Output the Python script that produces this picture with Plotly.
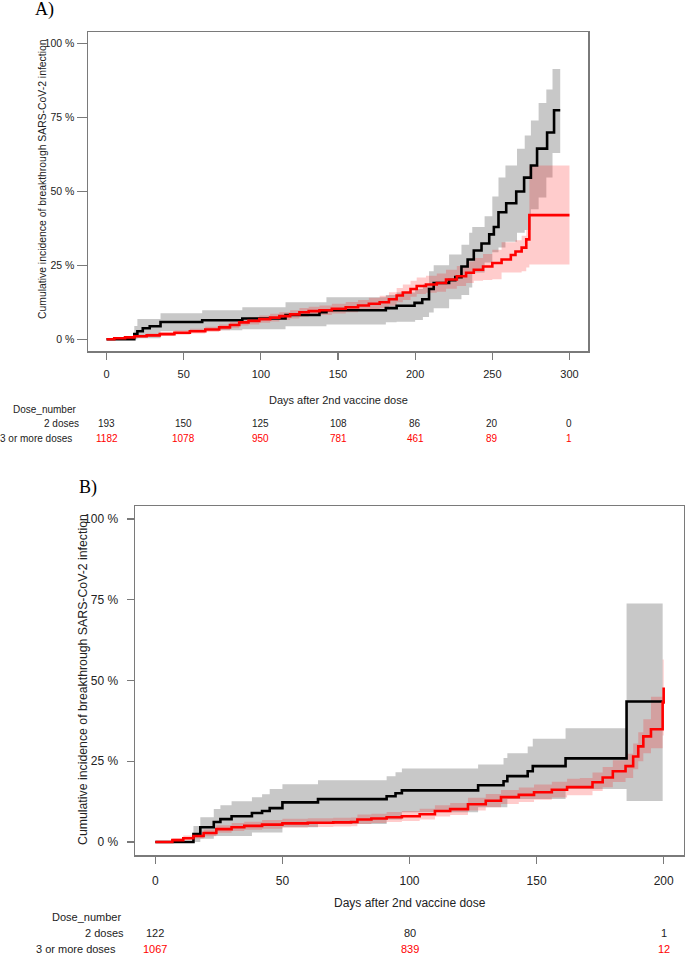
import plotly.graph_objects as go

# ---------------- Panel A data ----------------
a_black_days = [0, 18, 20, 23.5, 28, 35, 62, 88, 116, 138, 142.5, 181, 188, 199.6, 204.6, 209, 212, 222, 226, 230, 234, 238, 243, 248, 251, 254, 259, 265.5, 270.6, 275, 279, 285.5, 290, 294]
a_black_vals = [0, 1.7, 2.7, 3.7, 4.4, 5.8, 6.4, 7.0, 8.2, 9.1, 9.8, 10.5, 11.3, 12.3, 13.5, 17, 19, 20, 21, 24.6, 27, 30, 32.4, 35.5, 38, 43, 46, 50, 54.7, 58.8, 64.5, 70, 77.5, 77.5]

a_gray_days = [0, 18, 20, 35, 62, 88, 116, 142.5, 181, 188, 200, 205, 209, 212, 222, 230, 235, 237, 245, 250, 254, 258.5, 266, 271, 275, 280, 285, 289, 294]
a_gray_upper = [0, 4.5, 6.8, 8.8, 9.8, 10.8, 12.5, 14.2, 15.0, 15.8, 17.0, 18.5, 23, 25, 28.7, 32, 36, 38, 41.6, 48.3, 54.7, 58.8, 64.5, 69, 74, 80, 84.5, 91.5, 91.5]
a_gray_lower = [0, 0, 0.3, 2.7, 3.0, 3.4, 4.4, 5.0, 5.7, 5.9, 6.5, 7.5, 9.0, 10.5, 13.5, 15.0, 17.5, 22.6, 26, 29.4, 31, 33, 36, 37, 44, 48, 54.7, 63, 63]

a_red_days = [0, 5, 12, 18, 26, 34.5, 44, 54, 64, 73, 80, 86, 92, 99, 106, 112, 119, 125, 131, 138, 146, 155, 163, 170, 177, 183, 188, 192, 197, 201, 207, 214, 220, 227, 233, 238, 244, 250, 256, 262, 265, 269, 272, 274, 300]
a_red_vals = [0, 0.3, 0.6, 1.0, 1.3, 1.7, 2.2, 2.7, 3.3, 4.0, 4.8, 5.7, 6.2, 6.8, 7.3, 7.8, 8.4, 9.1, 9.5, 9.8, 10.3, 10.8, 11.4, 12.0, 12.5, 13.5, 14.8, 15.8, 17.0, 18.0, 18.5, 19.0, 20.2, 21.3, 22.5, 23.5, 24.6, 25.8, 27.0, 28.5, 29.7, 31.0, 33.8, 42.0, 42.0]
a_red_upper = [0, 0.6, 1.0, 1.5, 1.9, 2.4, 2.9, 3.5, 4.2, 5.0, 5.9, 6.8, 7.4, 8.0, 8.6, 9.1, 9.8, 10.6, 11.0, 11.4, 12.0, 12.6, 13.3, 14.0, 14.7, 15.9, 17.3, 18.5, 19.8, 20.9, 21.5, 22.2, 23.5, 24.8, 26.3, 27.5, 28.8, 30.3, 32.8, 32.8, 33.5, 35.0, 37.0, 58.8, 58.8]
a_red_lower = [0, 0.1, 0.3, 0.5, 0.8, 1.1, 1.5, 1.9, 2.4, 3.0, 3.7, 4.6, 5.0, 5.6, 6.0, 6.5, 7.0, 7.6, 8.0, 8.2, 8.7, 9.1, 9.6, 10.1, 10.5, 11.3, 12.5, 13.3, 14.4, 15.3, 15.7, 16.1, 17.1, 18.0, 19.0, 19.8, 20.0, 20.3, 22.6, 22.6, 22.6, 23.0, 24.3, 25.3, 25.3]

a_table_days = [0, 50, 100, 150, 200, 250, 300]
a_risk_2doses = [193, 150, 125, 108, 86, 20, 0]
a_risk_3doses = [1182, 1078, 950, 781, 461, 89, 1]
a_xticks = [0, 50, 100, 150, 200, 250, 300]

# ---------------- Panel B data ----------------
b_black_days = [0, 15, 17.7, 23, 25.6, 30, 38, 42, 45, 50, 64, 91, 94.5, 97, 127, 137, 138.5, 146.5, 148.5, 161.4, 185.4, 199.6]
b_black_vals = [0, 2.5, 4.6, 6.2, 7.1, 8.0, 9.0, 9.6, 10.5, 12.3, 13.3, 14.2, 15.1, 16.0, 17.6, 18.8, 20.4, 21.9, 23.5, 25.9, 43.5, 43.5]
b_gray_upper = [0, 5.0, 7.7, 10.2, 11.4, 12.6, 13.9, 14.8, 16.4, 17.9, 19.1, 20.4, 21.6, 22.8, 24.0, 26.0, 27.5, 29.6, 32.0, 35.2, 73.8, 73.8]
b_gray_lower = [0, 0, 1.0, 1.9, 1.9, 1.9, 3.0, 3.0, 3.0, 4.6, 5.6, 7.0, 7.0, 9.2, 10.8, 10.8, 13.3, 13.3, 13.3, 16.4, 12.7, 12.7]

b_red_days = [0, 6.7, 11, 15, 19, 24, 30, 35, 42, 50, 60, 70, 77, 79.5, 85, 91, 97, 104, 110, 116, 123, 130, 136, 143, 149, 156, 162, 167, 172, 176, 180, 185, 188, 190, 192, 195, 199.6, 200]
b_red_vals = [0, 0.6, 1.2, 1.9, 2.8, 4.0, 4.6, 5.0, 5.4, 5.8, 6.0, 6.1, 6.2, 7.0, 7.3, 7.7, 8.0, 8.6, 9.6, 10.2, 11.7, 12.8, 13.9, 14.6, 15.4, 16.2, 17.0, 17.0, 18.5, 20.0, 21.9, 23.5, 26.5, 29.6, 32.7, 34.9, 43.2, 47.8]
b_red_upper = [0, 1.2, 2.0, 2.8, 3.9, 5.2, 5.9, 6.3, 6.8, 7.2, 7.4, 7.5, 7.6, 8.5, 8.8, 9.3, 9.6, 10.3, 11.4, 12.1, 13.7, 14.9, 16.1, 16.9, 17.8, 18.7, 19.6, 19.8, 21.5, 23.2, 25.3, 27.3, 30.5, 34.0, 38.0, 45.0, 56.5, 56.5]
b_red_lower = [0, 0.2, 0.6, 1.1, 1.8, 2.9, 3.4, 3.8, 4.1, 4.5, 4.7, 4.8, 4.9, 5.6, 5.9, 6.2, 6.5, 7.0, 7.9, 8.4, 9.8, 10.8, 11.8, 12.4, 13.1, 13.8, 14.5, 14.5, 15.8, 17.0, 18.6, 19.8, 22.5, 25.0, 27.5, 29.0, 33.0, 33.0]

b_table_days = [0, 100, 200]
b_risk_2doses = [122, 80, 1]
b_risk_3doses = [1067, 839, 12]
b_xticks = [0, 50, 100, 150, 200]

y_ticks = [0, 25, 50, 75, 100]
y_ticktext = ["0 %", "25 %", "50 %", "75 %", "100 %"]
row_labels = ["2 doses", "3 or more doses"]
x_title = "Days after 2nd vaccine dose"
y_title = "Cumulative incidence of breakthrough SARS-CoV-2 infection"

W, H = 685, 955
GRAY = "rgb(200,200,200)"
PINK = "rgba(255,0,0,0.2)"
AXC = "#7a7a7a"
TXT = "#222222"
FONT = "Liberation Sans, Arial, sans-serif"

def px_x(p):
    return p / W

def px_y(p):
    return (H - p) / H

fig = go.Figure()

def add_panel(xa, ya, gdays, glow, gup, rdays, rlow, rup, bdays, bvals, rvals):
    fig.add_trace(go.Scatter(x=gdays, y=glow, mode="lines", line=dict(width=0, shape="hv"),
                             xaxis=xa, yaxis=ya, showlegend=False, hoverinfo="skip"))
    fig.add_trace(go.Scatter(x=gdays, y=gup, mode="lines", line=dict(width=0, shape="hv"),
                             fill="tonexty", fillcolor=GRAY,
                             xaxis=xa, yaxis=ya, showlegend=False, hoverinfo="skip"))
    fig.add_trace(go.Scatter(x=rdays, y=rlow, mode="lines", line=dict(width=0, shape="hv"),
                             xaxis=xa, yaxis=ya, showlegend=False, hoverinfo="skip"))
    fig.add_trace(go.Scatter(x=rdays, y=rup, mode="lines", line=dict(width=0, shape="hv"),
                             fill="tonexty", fillcolor=PINK,
                             xaxis=xa, yaxis=ya, showlegend=False, hoverinfo="skip"))
    fig.add_trace(go.Scatter(x=bdays, y=bvals, mode="lines", line=dict(color="black", width=2.6, shape="hv"),
                             xaxis=xa, yaxis=ya, showlegend=False, hoverinfo="skip"))
    fig.add_trace(go.Scatter(x=rdays, y=rvals, mode="lines", line=dict(color="#ff0000", width=2.6, shape="hv"),
                             xaxis=xa, yaxis=ya, showlegend=False, hoverinfo="skip"))

add_panel("x", "y", a_gray_days, a_gray_lower, a_gray_upper, a_red_days, a_red_lower, a_red_upper,
          a_black_days, a_black_vals, a_red_vals)
add_panel("x2", "y2", b_black_days, b_gray_lower, b_gray_upper, b_red_days, b_red_lower, b_red_upper,
          b_black_days, b_black_vals, b_red_vals)

def xaxis_cfg(domain, rng, ticks, fs, standoff, anchor):
    return dict(domain=domain, range=rng, tickvals=ticks, ticktext=[str(t) for t in ticks], anchor=anchor,
                showline=True, mirror=True, linecolor=AXC, linewidth=1.5,
                ticks="outside", ticklen=7, tickwidth=1.3, tickcolor=AXC,
                showgrid=False, zeroline=False, fixedrange=True,
                tickfont=dict(family=FONT, size=fs, color=TXT), ticklabelstandoff=standoff)

def yaxis_cfg(domain, ticklen, fs, standoff, anchor):
    return dict(domain=domain, range=[-4, 104], tickvals=y_ticks, ticktext=y_ticktext, anchor=anchor,
                showline=True, mirror=True, linecolor=AXC, linewidth=1.5,
                ticks="outside", ticklen=ticklen, tickwidth=1.3, tickcolor=AXC,
                showgrid=False, zeroline=False, fixedrange=True,
                tickfont=dict(family=FONT, size=fs, color=TXT), ticklabelstandoff=standoff)

fig.update_layout(
    width=W, height=H,
    margin=dict(l=0, r=0, t=0, b=0),
    paper_bgcolor="white", plot_bgcolor="white",
    showlegend=False,
    xaxis=xaxis_cfg([px_x(88), px_x(588)], [-12, 312], a_xticks, 11, 5, "y"),
    yaxis=yaxis_cfg([px_y(351), px_y(32)], 10, 10.5, 0, "x"),
    xaxis2=xaxis_cfg([px_x(135), px_x(684)], [-8, 208], b_xticks, 12, 7, "y2"),
    yaxis2=yaxis_cfg([px_y(855), px_y(506)], 7, 12, 6, "x2"),
)

ann = []
# panel labels
ann.append(dict(text="A)", x=px_x(33), y=px_y(9), xref="paper", yref="paper", xanchor="left", yanchor="middle",
                showarrow=False, font=dict(family="Liberation Serif, Times New Roman, serif", size=18, color="black")))
ann.append(dict(text="B)", x=px_x(77), y=px_y(487), xref="paper", yref="paper", xanchor="left", yanchor="middle",
                showarrow=False, font=dict(family="Liberation Serif, Times New Roman, serif", size=18, color="black")))
# y titles
ann.append(dict(text=y_title, x=px_x(42), y=px_y(179), xref="paper", yref="paper", textangle=-90,
                xanchor="center", yanchor="middle", showarrow=False,
                font=dict(family=FONT, size=10.4, color=TXT)))
ann.append(dict(text=y_title, x=px_x(83), y=px_y(680), xref="paper", yref="paper", textangle=-90,
                xanchor="center", yanchor="middle", showarrow=False,
                font=dict(family=FONT, size=12.3, color=TXT)))
# x titles
ann.append(dict(text=x_title, x=150, y=px_y(400), xref="x", yref="paper", xanchor="center", yanchor="middle",
                showarrow=False, font=dict(family=FONT, size=11, color=TXT)))
ann.append(dict(text=x_title, x=100, y=px_y(903), xref="x2", yref="paper", xanchor="center", yanchor="middle",
                showarrow=False, font=dict(family=FONT, size=12, color=TXT)))

# risk table A
ann.append(dict(text="Dose_number", x=px_x(44), y=px_y(409), xref="paper", yref="paper", xanchor="center",
                yanchor="middle", showarrow=False, font=dict(family=FONT, size=10, color=TXT)))
ann.append(dict(text=row_labels[0], x=px_x(80.5), y=px_y(423), xref="paper", yref="paper", xanchor="right",
                yanchor="middle", showarrow=False, font=dict(family=FONT, size=10, color=TXT)))
ann.append(dict(text=row_labels[1], x=px_x(73.5), y=px_y(439), xref="paper", yref="paper", xanchor="right",
                yanchor="middle", showarrow=False, font=dict(family=FONT, size=10, color=TXT)))
for d, v2, v3 in zip(a_table_days, a_risk_2doses, a_risk_3doses):
    ann.append(dict(text=str(v2), x=d, y=px_y(423), xref="x", yref="paper", xanchor="center", yanchor="middle",
                    showarrow=False, font=dict(family=FONT, size=10, color=TXT)))
    ann.append(dict(text=str(v3), x=d, y=px_y(439), xref="x", yref="paper", xanchor="center", yanchor="middle",
                    showarrow=False, font=dict(family=FONT, size=10, color="#ff0000")))

# risk table B
ann.append(dict(text="Dose_number", x=px_x(86), y=px_y(917), xref="paper", yref="paper", xanchor="center",
                yanchor="middle", showarrow=False, font=dict(family=FONT, size=11, color=TXT)))
ann.append(dict(text=row_labels[0], x=px_x(126), y=px_y(933), xref="paper", yref="paper", xanchor="right",
                yanchor="middle", showarrow=False, font=dict(family=FONT, size=11, color=TXT)))
ann.append(dict(text=row_labels[1], x=px_x(118), y=px_y(949), xref="paper", yref="paper", xanchor="right",
                yanchor="middle", showarrow=False, font=dict(family=FONT, size=11, color=TXT)))
for d, v2, v3 in zip(b_table_days, b_risk_2doses, b_risk_3doses):
    ann.append(dict(text=str(v2), x=d, y=px_y(933), xref="x2", yref="paper", xanchor="center", yanchor="middle",
                    showarrow=False, font=dict(family=FONT, size=11, color=TXT)))
    ann.append(dict(text=str(v3), x=d, y=px_y(949), xref="x2", yref="paper", xanchor="center", yanchor="middle",
                    showarrow=False, font=dict(family=FONT, size=11, color="#ff0000")))

fig.update_layout(annotations=ann)
fig.write_html("out.html", config={"displayModeBar": False, "staticPlot": True},
               post_script="document.body.style.margin='0px';document.body.style.overflow='hidden';")
